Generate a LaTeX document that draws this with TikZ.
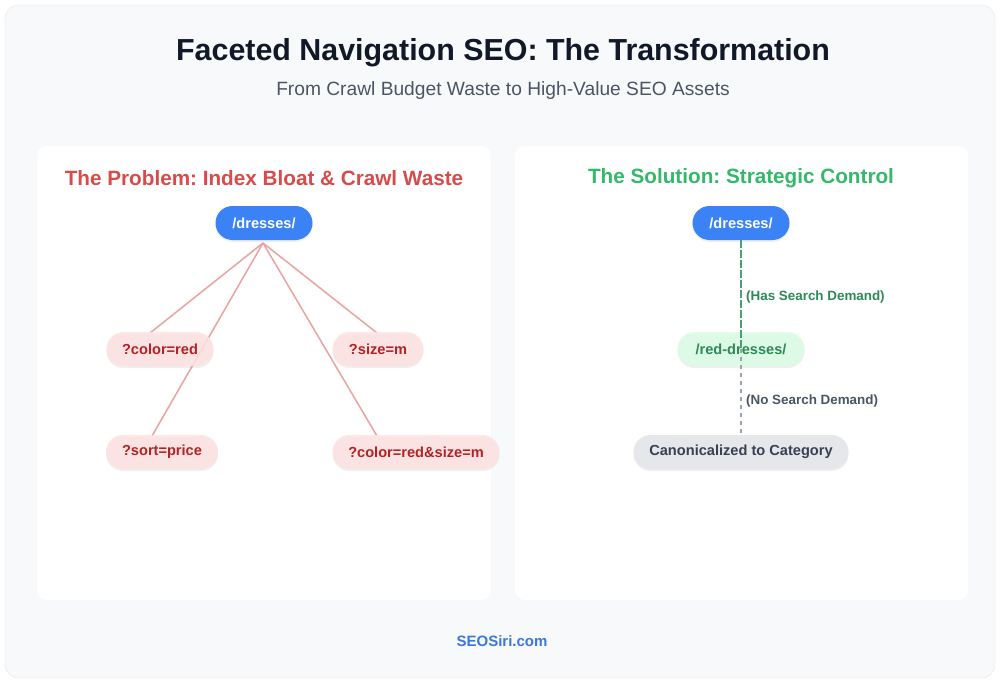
\documentclass[tikz,border=0pt]{standalone}
\usepackage{fontspec}
\setmainfont{Liberation Sans}
\setsansfont{Liberation Sans}
\frenchspacing
\usetikzlibrary{shadows}
\definecolor{outerbg}{HTML}{F8F9FB}
\definecolor{cardborder}{HTML}{E3E6EA}
\definecolor{titlecol}{HTML}{111827}
\definecolor{subcol}{HTML}{4B5563}
\definecolor{bluefill}{HTML}{3B82F6}
\definecolor{redtitle}{HTML}{D94A4A}
\definecolor{redfill}{HTML}{FEE2E2}
\definecolor{redtext}{HTML}{B42323}
\definecolor{redline}{HTML}{E9A3A3}
\definecolor{greentitle}{HTML}{34B86A}
\definecolor{greenfill}{HTML}{DCFCE7}
\definecolor{greentext}{HTML}{2E8A55}
\definecolor{greenline}{HTML}{4E9E74}
\definecolor{greylabel}{HTML}{4B5563}
\definecolor{grayfill}{HTML}{E5E7EB}
\definecolor{graytext}{HTML}{374151}
\definecolor{grayline}{HTML}{9CA3AF}
\definecolor{footcol}{HTML}{3B78D8}
\tikzset{
  pill/.style={rounded corners=17pt, minimum height=34pt, inner sep=0pt,
    font=\fontsize{14.6}{16}\selectfont\bfseries,
    drop shadow={opacity=0.12, shadow xshift=0pt, shadow yshift=-2pt}},
  rootbox/.style={pill, fill=bluefill, text=white, minimum width=97pt},
  facetbox/.style={pill, fill=redfill, fill opacity=0.85, text opacity=1, text=redtext},
  goodbox/.style={pill, fill=greenfill, fill opacity=0.9, text opacity=1, text=greentext},
  canonbox/.style={pill, fill=grayfill, text=graytext},
  redlink/.style={draw=redline, line width=1.5pt},
  greenlink/.style={draw=greenline, line width=2pt, dash pattern=on 8pt off 2pt},
  graylink/.style={draw=grayline, line width=2pt, dash pattern=on 4pt off 4pt},
  panel/.style={fill=white, rounded corners=10pt},
  linklabel/.style={anchor=west, inner sep=0pt, font=\fontsize{13.4}{15}\selectfont\bfseries}
}
\begin{document}
\begin{tikzpicture}[x=1pt,y=-1pt]
\useasboundingbox (0,0) rectangle (1000,682);
\fill[white] (0,0) rectangle (1000,682);
\draw[fill=outerbg, draw=cardborder, rounded corners=14pt] (5,5) rectangle (995,678);

\node[font=\fontsize{30.4}{34}\selectfont\bfseries, text=titlecol] (title) at (503,53) {Faceted Navigation SEO: The Transformation};
\node[font=\fontsize{19.2}{22}\selectfont, text=subcol] (subtitle) at (503,91) {From Crawl Budget Waste to High-Value SEO Assets};

\fill[panel] (37,146) rectangle (491,600);
\fill[panel] (515,146) rectangle (968,600);

\node[font=\fontsize{20.7}{24}\selectfont\bfseries, text=redtitle] (ptitle) at (264,178) {The Problem: Index Bloat \& Crawl Waste};
\node[font=\fontsize{20.7}{24}\selectfont\bfseries, text=greentitle] (stitle) at (741,178) {The Solution: Strategic Control};

% left tree
\coordinate (hub) at (263,243);
\draw[redlink] (hub) -- (150,333);
\draw[redlink] (hub) -- (152,436);
\draw[redlink] (hub) -- (377,333);
\draw[redlink] (hub) -- (377,436);

\node[rootbox] (d1) at (264,223) {/dresses/};
\node[facetbox, minimum width=107pt] (color) at (160,349) {?color=red};
\node[facetbox, minimum width=91pt] (size) at (378,349) {?size=m};
\node[facetbox, minimum width=112pt] (sort) at (162,452) {?sort=price};
\node[facetbox, minimum width=167pt] (combo) at (416,452) {?color=red\&size=m};

% right tree
\node[rootbox] (d2) at (741,223) {/dresses/};
\node[goodbox, minimum width=127pt] (red) at (741,349) {/red-dresses/};
\node[canonbox, minimum width=215pt] (canon) at (741,452) {Canonicalized to Category};
\draw[greenlink] (d2.south) -- (red.center);
\draw[graylink] (red.center) -- (canon.north);

\node[linklabel, text=greentext] (has) at (746,297) {(Has Search Demand)};
\node[linklabel, text=greylabel] (no) at (746,401) {(No Search Demand)};

\node[font=\fontsize{15}{17}\selectfont\bfseries, text=footcol] (foot) at (502,641) {SEOSiri.com};
\end{tikzpicture}
\end{document}
